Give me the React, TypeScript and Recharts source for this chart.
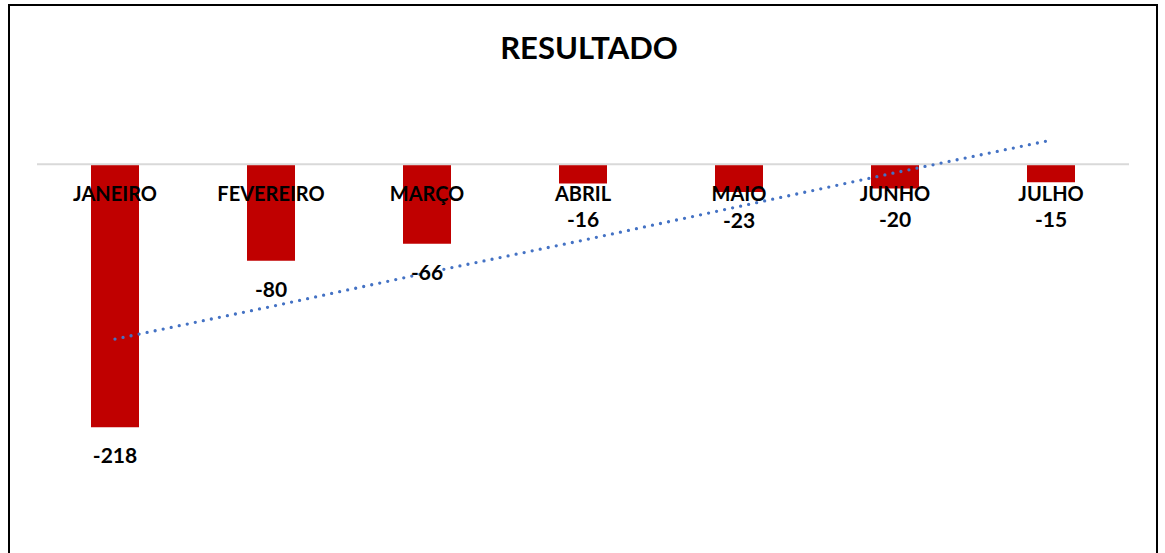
import React from "react";
import { ComposedChart, Bar, Line, XAxis, YAxis, ReferenceLine, LabelList } from "recharts";

const months = ["JANEIRO", "FEVEREIRO", "MARÇO", "ABRIL", "MAIO", "JUNHO", "JULHO"];
const values = [-218, -80, -66, -16, -23, -20, -15];
const trend = [-145, -118, -90, -63, -35, -7, 20];

const data = months.map((m, i) => ({ month: m, value: values[i], trend: trend[i] }));

const FONT = "Lato, 'Open Sans', sans-serif";

const CategoryLabel = (props: any) => {
  const { x, y, width, height, value } = props;
  const zeroY = Math.min(y, y + height);
  return (
    <text x={x + width / 2} y={zeroY + 30} dy="0.35em" textAnchor="middle" fontFamily={FONT} fontWeight={700} fontSize={20} fill="#000">
      {value}
    </text>
  );
};

const ValueLabel = (props: any) => {
  const { x, y, width, height, value } = props;
  const zeroY = Math.min(y, y + height);
  const endY = Math.max(y, y + height);
  const cy = Math.max(endY + 29, zeroY + 55);
  return (
    <text x={x + width / 2} y={cy} dy="0.35em" textAnchor="middle" fontFamily={FONT} fontWeight={700} fontSize={21} fill="#000">
      {value}
    </text>
  );
};

export default function App() {
  return (
    <div
      style={{
        position: "absolute",
        left: 8,
        top: 4,
        width: 1150,
        height: 549,
        borderTop: "2px solid #000",
        borderLeft: "2px solid #000",
        borderRight: "2px solid #000",
        boxSizing: "border-box",
        background: "#fff",
        overflow: "hidden",
      }}
    >
      <div
        style={{
          position: "absolute",
          left: 579,
          top: 26,
          transform: "translateX(-50%)",
          fontFamily: FONT,
          fontWeight: 700,
          fontSize: 31,
          lineHeight: "31px",
          color: "#000",
          whiteSpace: "nowrap",
        }}
      >
        RESULTADO
      </div>
      <ComposedChart width={1146} height={556} data={data} margin={{ top: 98, right: 27, bottom: 36, left: 27 }}>
        <XAxis dataKey="month" hide />
        <YAxis hide domain={[-300, 50]} />
        <ReferenceLine y={0} stroke="#D9D9D9" strokeWidth={2} />
        <Bar dataKey="value" fill="#C00000" barSize={48} isAnimationActive={false}>
          <LabelList dataKey="month" content={CategoryLabel} />
          <LabelList dataKey="value" content={ValueLabel} />
        </Bar>
        <Line
          dataKey="trend"
          type="linear"
          stroke="#4472C4"
          strokeWidth={3.3}
          strokeDasharray="0 8.2"
          strokeLinecap="round"
          dot={false}
          activeDot={false}
          isAnimationActive={false}
        />
      </ComposedChart>
    </div>
  );
}
